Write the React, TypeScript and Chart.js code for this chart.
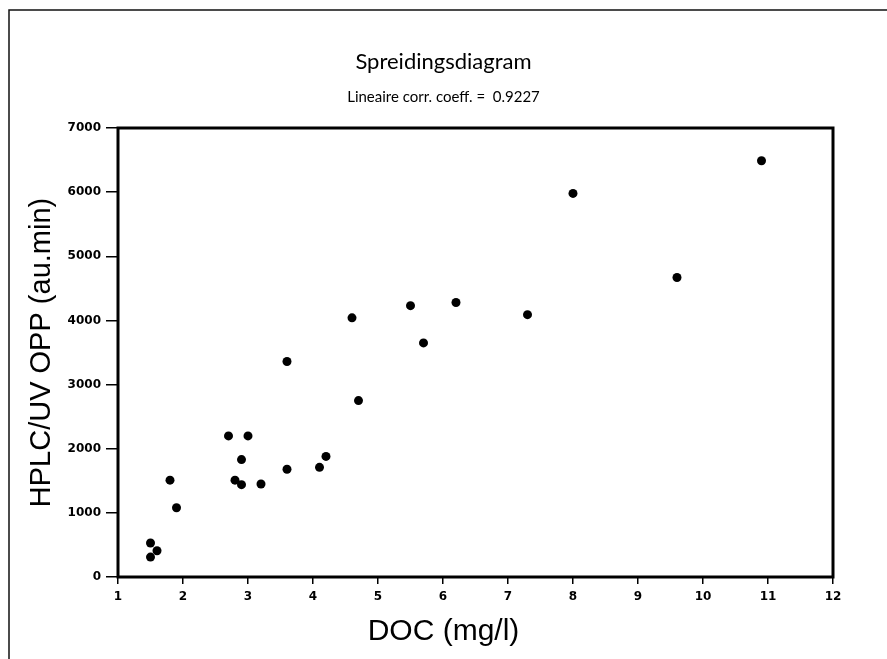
import React, { useEffect, useRef } from "react";
import { Chart, registerables } from "chart.js";

Chart.register(...registerables);

const chartTitle = "Spreidingsdiagram";
const chartSubtitle = "Lineaire corr. coeff. =  0.9227";
const xAxisTitle = "DOC (mg/l)";
const yAxisTitle = "HPLC/UV OPP (au.min)";

const docValues = [1.5, 1.5, 1.6, 1.8, 1.9, 2.7, 2.8, 2.9, 2.9, 3.0, 3.2, 3.6, 3.6, 4.1, 4.2, 4.6, 4.7, 5.5, 5.7, 6.2, 7.3, 8.0, 9.6, 10.9];
const oppValues = [530, 310, 410, 1510, 1080, 2200, 1510, 1830, 1440, 2200, 1450, 1680, 3360, 1710, 1880, 4040, 2750, 4230, 3650, 4280, 4090, 5980, 4670, 6490];

const xTickValues = [1, 2, 3, 4, 5, 6, 7, 8, 9, 10, 11, 12];
const yTickValues = [0, 1000, 2000, 3000, 4000, 5000, 6000, 7000];

const TEXT_FONT = "Lato, 'Liberation Sans', Arial, sans-serif";
const AXIS_FONT = "'Liberation Sans', Arial, sans-serif";
const TICK_FONT = "'DejaVu Sans', sans-serif";

const decorPlugin = {
  id: "decor",
  beforeDraw(chart: any) {
    const ctx = chart.ctx;
    ctx.save();
    ctx.fillStyle = "#fff";
    ctx.fillRect(0, 0, chart.width, chart.height);
    ctx.strokeStyle = "#111";
    ctx.lineWidth = 1.5;
    ctx.beginPath();
    ctx.moveTo(9, chart.height);
    ctx.lineTo(9, 10);
    ctx.lineTo(chart.width, 10);
    ctx.stroke();
    ctx.restore();
  },
  beforeDatasetsDraw(chart: any) {
    const { ctx, chartArea } = chart;
    ctx.save();
    ctx.strokeStyle = "#000";
    ctx.lineWidth = 3;
    ctx.strokeRect(chartArea.left, chartArea.top, chartArea.right - chartArea.left, chartArea.bottom - chartArea.top);
    ctx.restore();
  },
  afterDraw(chart: any) {
    const ctx = chart.ctx;
    ctx.save();
    ctx.fillStyle = "#000";
    ctx.font = "30px " + AXIS_FONT;
    ctx.textAlign = "center";
    ctx.textBaseline = "alphabetic";
    ctx.fillText(xAxisTitle, chart.width / 2, 640);
    ctx.restore();
  },
};

export default function App() {
  const canvasRef = useRef<HTMLCanvasElement | null>(null);

  useEffect(() => {
    if (!canvasRef.current) return;
    const points = docValues.map((x, i) => ({ x, y: oppValues[i] }));
    const chart = new Chart(canvasRef.current, {
      type: "scatter",
      data: {
        datasets: [
          {
            label: "OPP",
            data: points,
            backgroundColor: "#000",
            borderColor: "#000",
            borderWidth: 0,
            pointRadius: 4.5,
            pointHoverRadius: 4.5,
          },
        ],
      },
      options: {
        animation: false,
        responsive: true,
        maintainAspectRatio: false,
        layout: { padding: { left: 0, right: 0, top: 0, bottom: 52 } },
        plugins: {
          legend: { display: false },
          tooltip: { enabled: false },
          title: {
            display: true,
            text: chartTitle,
            color: "#000",
            font: { family: TEXT_FONT, size: 22, weight: "normal", lineHeight: 1.2 },
            padding: { top: 49, bottom: 0 },
          },
          subtitle: {
            display: true,
            text: chartSubtitle,
            color: "#000",
            font: { family: TEXT_FONT, size: 15, weight: "normal", lineHeight: 1.2 },
            padding: { top: 13, bottom: 21.6 },
          },
        },
        scales: {
          x: {
            type: "linear",
            min: 1,
            max: 12,
            afterBuildTicks: (s: any) => {
              s.ticks = xTickValues.map((v) => ({ value: v }));
            },
            afterFit: (s: any) => {
              s.height = 30;
              s.paddingLeft = 0;
              s.paddingRight = 0;
            },
            border: { display: false },
            grid: { display: true, drawOnChartArea: false, drawTicks: true, tickLength: 7, color: "#000", lineWidth: 1.5 },
            ticks: {
              color: "#000",
              font: { family: TICK_FONT, size: 12, weight: "bold" },
              padding: 6,
              maxRotation: 0,
              autoSkip: false,
              callback: (v: any) => String(v),
            },
          },
          y: {
            type: "linear",
            min: 0,
            max: 7000,
            afterBuildTicks: (s: any) => {
              s.ticks = yTickValues.map((v) => ({ value: v }));
            },
            afterFit: (s: any) => {
              s.width = 118;
              s.paddingTop = 0;
              s.paddingBottom = 0;
            },
            border: { display: false },
            grid: { display: true, drawOnChartArea: false, drawTicks: true, tickLength: 12, color: "#000", lineWidth: 1.5 },
            ticks: {
              color: "#000",
              font: { family: TICK_FONT, size: 12, weight: "bold" },
              padding: 5,
              autoSkip: false,
              callback: (v: any) => String(v),
            },
            title: {
              display: true,
              text: yAxisTitle,
              color: "#000",
              font: { family: AXIS_FONT, size: 29, weight: "normal", lineHeight: 1.2 },
              padding: { top: 25, bottom: 0 },
            },
          },
          yRight: {
            type: "linear",
            position: "right",
            min: 0,
            max: 7000,
            afterFit: (s: any) => {
              s.width = 54;
              s.paddingTop = 0;
              s.paddingBottom = 0;
            },
            border: { display: false },
            grid: { display: false },
            ticks: { display: false },
          },
        },
      },
      plugins: [decorPlugin],
    });
    return () => chart.destroy();
  }, []);

  return (
    <div style={{ position: "fixed", left: 0, top: 0, width: 887, height: 659, background: "#fff" }}>
      <canvas ref={canvasRef} />
    </div>
  );
}
